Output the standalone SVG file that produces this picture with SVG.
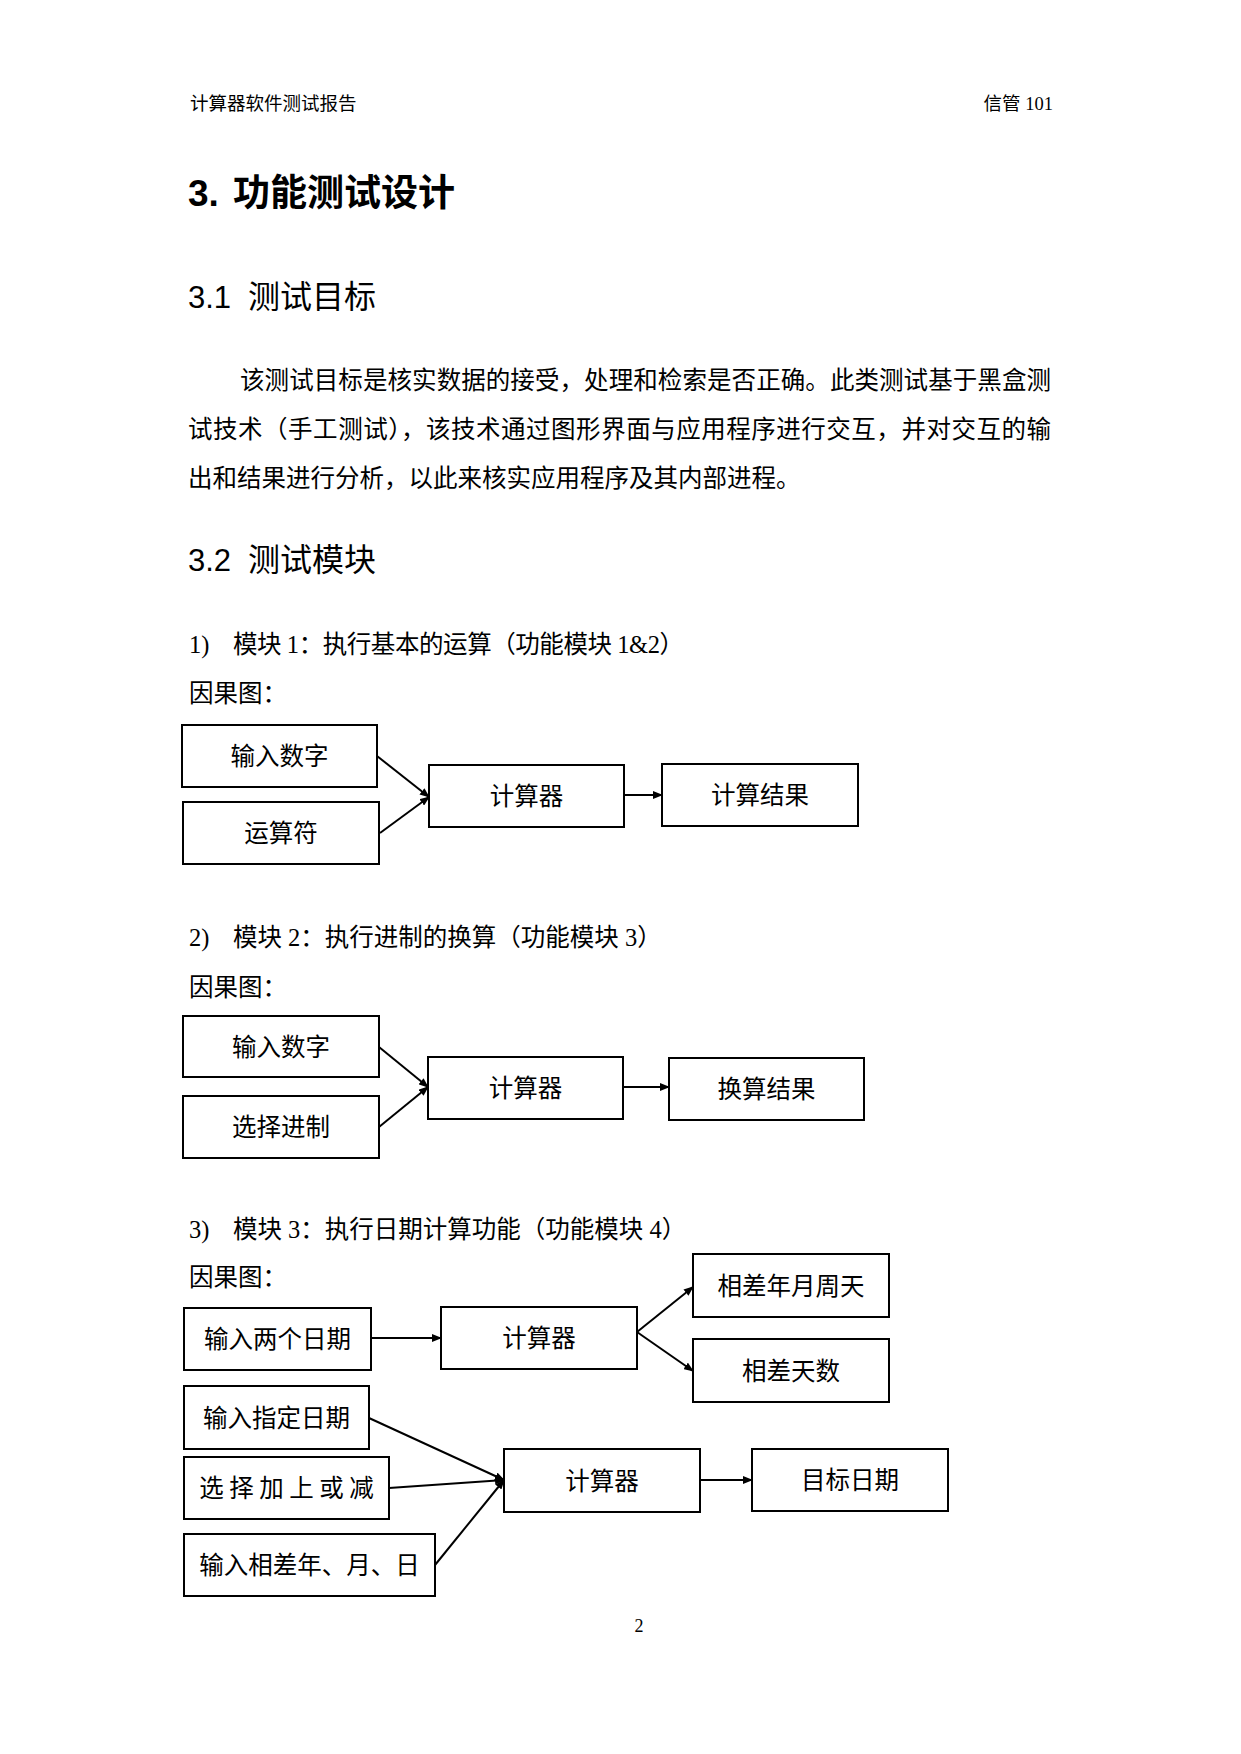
<svg xmlns="http://www.w3.org/2000/svg" width="1241" height="1754" viewBox="0 0 1241 1754">
<style>
.t{font-family:"Liberation Serif","Noto Sans CJK SC",serif;fill:#000}
.cjk{font-family:"Noto Sans CJK SC","Liberation Serif",sans-serif;fill:#000}
.body{font-size:24.5px}
.box{fill:#fff;stroke:#000;stroke-width:2}
.lbl{font-family:"Noto Sans CJK SC","Liberation Serif",sans-serif;font-size:24.5px;text-anchor:middle;fill:#000}
.conn{stroke:#000;stroke-width:2;fill:none;marker-end:url(#arr)}
</style>
<defs>
<marker id="arr" viewBox="0 0 10 8" refX="9" refY="4" markerWidth="10" markerHeight="8" markerUnits="userSpaceOnUse" orient="auto">
<path d="M0,0 L10,4 L0,8 z" fill="#000"/>
</marker>
</defs>
<rect width="1241" height="1754" fill="#fff"/>

<!-- header -->
<text class="t" x="190" y="110" font-size="18.5">计算器软件测试报告</text>
<text class="t" x="1053" y="110" font-size="18.5" text-anchor="end">信管 101</text>

<!-- title -->
<text class="cjk" y="206" font-size="37" font-weight="bold"><tspan x="188" font-family="Liberation Sans">3.</tspan><tspan x="233">功能测试设计</tspan></text>

<text class="t" y="308" font-size="32"><tspan x="188" font-family="Liberation Sans" font-size="31">3.1</tspan><tspan x="248">测试目标</tspan></text>

<text class="t body" x="240" y="389" textLength="811" lengthAdjust="spacing">该测试目标是核实数据的接受，处理和检索是否正确。此类测试基于黑盒测</text>
<text class="t body" x="188" y="438" textLength="863" lengthAdjust="spacing">试技术（手工测试），该技术通过图形界面与应用程序进行交互，并对交互的输</text>
<text class="t body" x="188" y="487">出和结果进行分析，以此来核实应用程序及其内部进程。</text>

<text class="t" y="571" font-size="32"><tspan x="188" font-family="Liberation Sans" font-size="31">3.2</tspan><tspan x="248">测试模块</tspan></text>

<!-- module 1 -->
<text class="t body" y="653"><tspan x="189">1)</tspan><tspan x="233" textLength="451" lengthAdjust="spacing">模块 1：执行基本的运算（功能模块 1&amp;2）</tspan></text>
<text class="t body" x="189" y="702">因果图：</text>

<!-- module 2 -->
<text class="t body" y="946"><tspan x="189">2)</tspan><tspan x="233">模块 2：执行进制的换算（功能模块 3）</tspan></text>
<text class="t body" x="189" y="996">因果图：</text>

<!-- module 3 -->
<text class="t body" y="1238"><tspan x="189">3)</tspan><tspan x="233">模块 3：执行日期计算功能（功能模块 4）</tspan></text>
<text class="t body" x="189" y="1286">因果图：</text>

<!-- connectors -->
<g id="connectors">
<line class="conn" x1="377" y1="756" x2="429" y2="797"/>
<line class="conn" x1="380" y1="833" x2="429" y2="797"/>
<line class="conn" x1="624" y1="795" x2="662" y2="795"/>

<line class="conn" x1="379" y1="1047" x2="428" y2="1087"/>
<line class="conn" x1="379" y1="1127" x2="428" y2="1087"/>
<line class="conn" x1="623" y1="1087" x2="669" y2="1087"/>

<line class="conn" x1="371" y1="1338" x2="441" y2="1338"/>
<line class="conn" x1="637" y1="1332" x2="693" y2="1287"/>
<line class="conn" x1="637" y1="1332" x2="693" y2="1371"/>
<line class="conn" x1="369" y1="1418" x2="504" y2="1480"/>
<line class="conn" x1="389" y1="1488" x2="504" y2="1480"/>
<line class="conn" x1="435" y1="1565" x2="504" y2="1480"/>
<line class="conn" x1="700" y1="1480" x2="752" y2="1480"/>
</g>

<!-- diagram 1 -->
<g id="d1-input"><rect class="box" x="182" y="725" width="195" height="62"/><text class="lbl" x="279.5" y="765">输入数字</text></g>
<g id="d1-op"><rect class="box" x="183" y="802" width="196" height="62"/><text class="lbl" x="281" y="842">运算符</text></g>
<g id="d1-calc"><rect class="box" x="429" y="765" width="195" height="62"/><text class="lbl" x="526.5" y="805">计算器</text></g>
<g id="d1-result"><rect class="box" x="662" y="764" width="196" height="62"/><text class="lbl" x="760" y="804">计算结果</text></g>

<!-- diagram 2 -->
<g id="d2-input"><rect class="box" x="183" y="1016" width="196" height="61"/><text class="lbl" x="281" y="1056">输入数字</text></g>
<g id="d2-base"><rect class="box" x="183" y="1096" width="196" height="62"/><text class="lbl" x="281" y="1136">选择进制</text></g>
<g id="d2-calc"><rect class="box" x="428" y="1057" width="195" height="62"/><text class="lbl" x="525.5" y="1097">计算器</text></g>
<g id="d2-result"><rect class="box" x="669" y="1058" width="195" height="62"/><text class="lbl" x="766.5" y="1098">换算结果</text></g>

<!-- diagram 3 -->
<g id="d3-ymwd"><rect class="box" x="693" y="1254" width="196" height="63"/><text class="lbl" x="791" y="1295">相差年月周天</text></g>
<g id="d3-two"><rect class="box" x="184" y="1308" width="187" height="62"/><text class="lbl" x="277.5" y="1348">输入两个日期</text></g>
<g id="d3-calc1"><rect class="box" x="441" y="1307" width="196" height="62"/><text class="lbl" x="539" y="1347">计算器</text></g>
<g id="d3-days"><rect class="box" x="693" y="1339" width="196" height="63"/><text class="lbl" x="791" y="1380">相差天数</text></g>
<g id="d3-date"><rect class="box" x="184" y="1386" width="185" height="63"/><text class="lbl" x="276.5" y="1427">输入指定日期</text></g>
<g id="d3-op"><rect class="box" x="184" y="1457" width="205" height="62"/><text class="lbl" x="286.5" y="1497">选 择 加 上 或 减</text></g>
<g id="d3-calc2"><rect class="box" x="504" y="1449" width="196" height="63"/><text class="lbl" x="602" y="1490">计算器</text></g>
<g id="d3-target"><rect class="box" x="752" y="1449" width="196" height="62"/><text class="lbl" x="850" y="1489">目标日期</text></g>
<g id="d3-diff"><rect class="box" x="184" y="1534" width="251" height="62"/><text class="lbl" x="309.5" y="1574">输入相差年、月、日</text></g>

<text class="t" x="639" y="1632" font-size="18" text-anchor="middle">2</text>
</svg>
